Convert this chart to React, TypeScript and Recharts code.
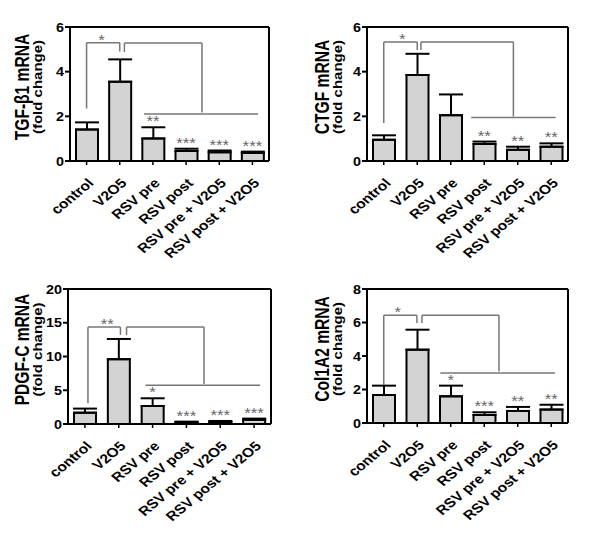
import { Bar, ComposedChart, ErrorBar, ReferenceDot, ReferenceLine, Scatter, XAxis, YAxis } from "recharts"

const groups = ["control", "V2O5", "RSV pre", "RSV post", "RSV pre + V2O5", "RSV post + V2O5"]

const tgfMean = [1.41, 3.55, 1.01, 0.45, 0.39, 0.36]
const tgfErr = [0.32, 1.0, 0.5, 0.1, 0.08, 0.06]
const tgfStars = ["", "", "**", "***", "***", "***"]
const tgfTicks = [0, 2, 4, 6]
const tgfBrackets = [
  [[0, 2.35], [0, 5.3], [1, 5.3], [1, 4.9]],
  [[1.14, 4.88], [1.14, 5.28], [3.48, 5.28], [3.48, 2.17]],
  [[1.73, 2.1], [5.17, 2.1]],
]
const tgfBracketStar = { x: 0.45, y: 5.3, text: "*" }

const ctgfMean = [0.95, 3.85, 2.05, 0.76, 0.5, 0.64]
const ctgfErr = [0.2, 0.95, 0.93, 0.11, 0.14, 0.15]
const ctgfStars = ["", "", "", "**", "**", "**"]
const ctgfTicks = [0, 2, 4, 6]
const ctgfBrackets = [
  [[0, 1.7], [0, 5.33], [1, 5.33], [1, 4.97]],
  [[1.11, 4.97], [1.11, 5.33], [3.87, 5.33], [3.87, 1.99]],
  [[2.61, 1.95], [5.13, 1.95]],
]
const ctgfBracketStar = { x: 0.55, y: 5.33, text: "*" }

const pdgfMean = [1.68, 9.6, 2.67, 0.25, 0.3, 0.64]
const pdgfErr = [0.6, 3.0, 1.14, 0.1, 0.15, 0.16]
const pdgfStars = ["", "", "*", "***", "***", "***"]
const pdgfTicks = [0, 5, 10, 15, 20]
const pdgfBrackets = [
  [[0.09, 3.07], [0.09, 14.36], [1.05, 14.36], [1.05, 13.2]],
  [[1.23, 13.2], [1.23, 14.36], [3.52, 14.36], [3.52, 5.94]],
  [[1.79, 5.74], [5.18, 5.74]],
]
const pdgfBracketStar = { x: 0.66, y: 14.36, text: "**" }

const colMean = [1.67, 4.38, 1.59, 0.48, 0.72, 0.8]
const colErr = [0.56, 1.19, 0.64, 0.16, 0.24, 0.29]
const colStars = ["", "", "*", "***", "**", "**"]
const colTicks = [0, 2, 4, 6, 8]
const colBrackets = [
  [[0, 2.29], [0, 6.43], [0.99, 6.43], [0.99, 5.97]],
  [[1.14, 5.97], [1.14, 6.43], [3.44, 6.43], [3.44, 3.08]],
  [[1.69, 2.99], [5.11, 2.99]],
]
const colBracketStar = { x: 0.42, y: 6.43, text: "*" }

const FONT = "'Liberation Sans', Arial, sans-serif"

const XTick = ({ x, y, payload }: any) => (
  <text
    transform={`translate(${x + 8} ${y + 17}) scale(1.2 1) rotate(-45)`}
    textAnchor="end"
    fontFamily={FONT}
    fontWeight="bold"
    fontSize={13}
    fill="#000"
  >
    {groups[payload.value]}
  </text>
)

const YTick = ({ x, y, payload }: any) => (
  <text
    transform={`translate(${x} ${y}) scale(1.15 1)`}
    dy="0.36em"
    textAnchor="end"
    fontFamily={FONT}
    fontWeight="bold"
    fontSize={12.5}
    fill="#000"
  >
    {payload.value}
  </text>
)

const starText = (cx: number, cy: number, text: string, dy: number) => (
  <text
    transform={`translate(${cx} ${cy + dy}) scale(1.2 1)`}
    textAnchor="middle"
    fontFamily={FONT}
    fontSize={14}
    fill="#666"
  >
    {text}
  </text>
)

const StarShape = ({ cx, cy, payload }: any) => (payload.sig ? starText(cx, cy, payload.sig, -1) : <g />)

const Panel = ({ left, top, width, height, margin, yWidth, xHeight, title, means, errs, stars, ticks, brackets, bracketStar }: any) => {
  const rows = groups.map((name, i) => ({
    pos: i,
    name,
    mean: means[i],
    err: [0, errs[i]],
    top: means[i] + errs[i],
    sig: stars[i],
  }))
  const yMax = ticks[ticks.length - 1]
  return (
    <div style={{ position: "absolute", left, top }}>
      <ComposedChart width={width} height={height} data={rows} margin={margin}>
        <XAxis
          type="number"
          dataKey="pos"
          domain={[-0.5, 5.5]}
          ticks={[0, 1, 2, 3, 4, 5]}
          interval={0}
          height={xHeight}
          tick={<XTick />}
          tickSize={4}
          axisLine={{ stroke: "#000", strokeWidth: 2 }}
          tickLine={{ stroke: "#000", strokeWidth: 1.5 }}
        />
        <YAxis
          type="number"
          domain={[0, yMax]}
          ticks={ticks}
          width={yWidth}
          tickSize={5}
          tickMargin={1}
          axisLine={{ stroke: "#000", strokeWidth: 2 }}
          tickLine={{ stroke: "#000", strokeWidth: 2 }}
          tick={<YTick />}
          label={({ viewBox }: any) => {
            const cy = viewBox.y + viewBox.height / 2 - 7
            return (
              <g fontFamily={FONT} fontWeight="bold" fill="#000" textAnchor="middle">
                <text fontSize={15.6} transform={`translate(${viewBox.x + 29} ${cy}) scale(1.3 1) rotate(-90)`}>
                  {title}
                </text>
                <text fontSize={15} transform={`translate(${viewBox.x + 42} ${cy}) scale(0.88 1) rotate(-90)`}>
                  (fold change)
                </text>
              </g>
            )
          }}
        />
        <ReferenceLine y={yMax} stroke="#000" strokeWidth={2} />
        <ReferenceLine x={5.5} stroke="#000" strokeWidth={2} />
        {brackets.map((pts: number[][], b: number) =>
          pts.slice(1).map((p, k) => (
            <ReferenceLine
              key={`${b}-${k}`}
              segment={[
                { x: pts[k][0], y: pts[k][1] },
                { x: p[0], y: p[1] },
              ]}
              stroke="#777"
              strokeWidth={1.5}
              ifOverflow="visible"
            />
          ))
        )}
        <ReferenceDot
          x={bracketStar.x}
          y={bracketStar.y}
          r={0}
          ifOverflow="visible"
          shape={({ cx, cy }: any) => starText(cx, cy, bracketStar.text, 2)}
        />
        <Bar dataKey="mean" barSize={22} fill="#d3d3d3" stroke="#000" strokeWidth={2} isAnimationActive={false}>
          <ErrorBar dataKey="err" direction="y" width={12} stroke="#000" strokeWidth={2} />
        </Bar>
        <Scatter dataKey="top" fill="#666" shape={<StarShape />} isAnimationActive={false} />
      </ComposedChart>
    </div>
  )
}

export default function App() {
  return (
    <div style={{ position: "absolute", left: 0, top: 0, width: 600, height: 552, background: "#fff" }}>
      <Panel
        left={0} top={0} width={300} height={270}
        margin={{ top: 27, right: 31, bottom: 0, left: 0 }}
        yWidth={70} xHeight={109}
        title="TGF-β1 mRNA"
        means={tgfMean} errs={tgfErr} stars={tgfStars} ticks={tgfTicks}
        brackets={tgfBrackets} bracketStar={tgfBracketStar}
      />
      <Panel
        left={300} top={0} width={300} height={270}
        margin={{ top: 27, right: 32, bottom: 0, left: 0 }}
        yWidth={67} xHeight={109}
        title="CTGF mRNA"
        means={ctgfMean} errs={ctgfErr} stars={ctgfStars} ticks={ctgfTicks}
        brackets={ctgfBrackets} bracketStar={ctgfBracketStar}
      />
      <Panel
        left={0} top={270} width={300} height={282}
        margin={{ top: 19, right: 29, bottom: 0, left: 0 }}
        yWidth={68} xHeight={128}
        title="PDGF-C mRNA"
        means={pdgfMean} errs={pdgfErr} stars={pdgfStars} ticks={pdgfTicks}
        brackets={pdgfBrackets} bracketStar={pdgfBracketStar}
      />
      <Panel
        left={300} top={270} width={300} height={282}
        margin={{ top: 19, right: 32, bottom: 0, left: 0 }}
        yWidth={67} xHeight={129}
        title="Col1A2 mRNA"
        means={colMean} errs={colErr} stars={colStars} ticks={colTicks}
        brackets={colBrackets} bracketStar={colBracketStar}
      />
    </div>
  )
}
